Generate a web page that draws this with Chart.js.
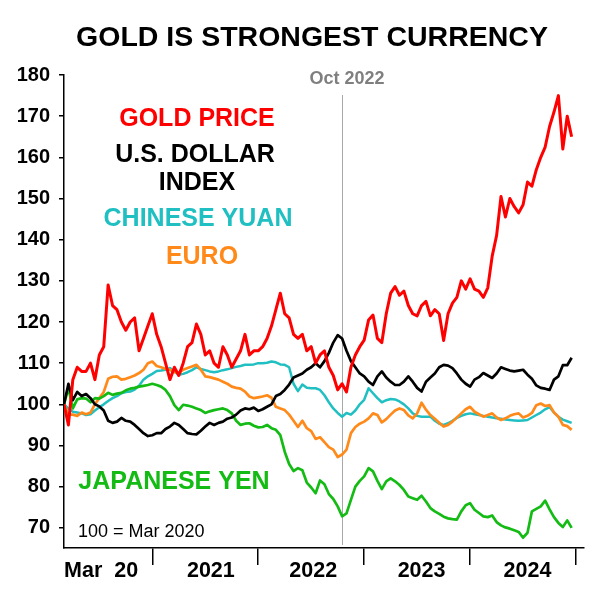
<!DOCTYPE html>
<html>
<head>
<meta charset="utf-8">
<script src="https://cdn.jsdelivr.net/npm/chart.js@4.4.1/dist/chart.umd.min.js"></script>
<style>html,body{margin:0;padding:0;background:#fff}canvas{display:block}</style>
</head>
<body>
<canvas id="chart" width="600" height="607"></canvas>
<script>
// semi-monthly observations, 100 = Mar 2020
const DATES = [
  '2020-03-01','2020-03-16','2020-04-01','2020-04-16','2020-05-01','2020-05-16','2020-06-01','2020-06-16','2020-07-01','2020-07-16',
  '2020-08-01','2020-08-16','2020-09-01','2020-09-16','2020-10-01','2020-10-16','2020-11-01','2020-11-16','2020-12-01','2020-12-16',
  '2021-01-01','2021-01-16','2021-02-01','2021-02-16','2021-03-01','2021-03-16','2021-04-01','2021-04-16','2021-05-01','2021-05-16',
  '2021-06-01','2021-06-16','2021-07-01','2021-07-16','2021-08-01','2021-08-16','2021-09-01','2021-09-16','2021-10-01','2021-10-16',
  '2021-11-01','2021-11-16','2021-12-01','2021-12-16','2022-01-01','2022-01-16','2022-02-01','2022-02-16','2022-03-01','2022-03-16',
  '2022-04-01','2022-04-16','2022-05-01','2022-05-16','2022-06-01','2022-06-16','2022-07-01','2022-07-16','2022-08-01','2022-08-16',
  '2022-09-01','2022-09-16','2022-10-01','2022-10-16','2022-11-01','2022-11-16','2022-12-01','2022-12-16','2023-01-01','2023-01-16',
  '2023-02-01','2023-02-16','2023-03-01','2023-03-16','2023-04-01','2023-04-16','2023-05-01','2023-05-16','2023-06-01','2023-06-16',
  '2023-07-01','2023-07-16','2023-08-01','2023-08-16','2023-09-01','2023-09-16','2023-10-01','2023-10-16','2023-11-01','2023-11-16',
  '2023-12-01','2023-12-16','2024-01-01','2024-01-16','2024-02-01','2024-02-16','2024-03-01','2024-03-16','2024-04-01','2024-04-16',
  '2024-05-01','2024-05-16','2024-06-01','2024-06-16','2024-07-01','2024-07-16','2024-08-01','2024-08-16','2024-09-01','2024-09-16',
  '2024-10-01','2024-10-16','2024-11-01','2024-11-16','2024-12-01','2024-12-16'
];

const GOLD = [100,95,106,109,108,108,110,106,112,114, 129,124,123,120,118,120,121,113,116,119,
  122,117,114,110,106,109,107,110,114,115, 119.5,117,112,113,110,109,114,112,109,111,
  113,117,112,113,113,114,116,119,123,127, 122,121,117,116,117,113,114,110,112,113,
  109,107,103.5,105,103,109,112,114,115.6,120.5, 121.7,116,115,122,127,128.6,126.5,127.5,124,122,
  121.5,124,125,121.5,123,122,115.5,122,124.6,126, 130,128,130.5,128,127.5,126,128.3,136,141,150.5,
  145.5,150,148,146.5,148.5,154,153,157,160,162.5, 167.5,171,175,162,170,165];

const USD = [100,105,101,103,102,102.5,101.5,100,99.5,98.5, 96,95.5,95.8,96.7,96,95.8,95,94,93,92.3,
  92.5,93,93,94,94.6,95.5,95,94,93,92.8, 92.7,93.6,94.6,95.5,95,95.5,95.8,96.5,96.8,97.5,
  98.5,99,98.8,99.2,98.4,98.8,99.4,100,102,102.5, 103.5,104.8,106.5,107,107.5,108.4,109,110,109,110.5,
  112.5,115,116.8,116,113,110.5,109,107.5,106.8,105.5, 104.7,106.8,108,106.5,105.5,104.7,104.7,105.5,106.8,105.5,
  104,103.1,105.5,106.5,107.5,109,109.6,109.4,108.8,107.5, 106,105,104.3,106,106.6,107.6,107,106.4,107.5,109,
  108.6,108.2,108,108.2,108.4,107.2,106.2,104.6,104,103.8, 103.5,106,106.8,109.5,109.5,111.3];

const YUAN = [100,99,98.2,98,97.8,97.4,97.6,98.5,99.3,100, 100.8,101.5,102,102.7,103,103.1,103.6,104.5,106,106.8,
  107.4,108.1,108.2,108.4,108.8,108,107.2,107.4,107.8,108.3, 109,108.6,108.3,108,107.8,108,108.3,108.5,108.8,109.1,
  109.3,109.6,109.6,109.7,110,110,110.1,110.4,110.2,109.7, 109.6,109,105,103.2,104.8,104,103.9,103.9,103.5,102.2,
  100.5,99,97.9,97,97.9,97.5,98.5,100,101.1,103.9, 102.7,101.5,100.5,101,101.3,101.2,100.7,100,99,97.8,
  97.2,97,97,97,96,95.3,95,95.4,96,96.7, 97.2,97.6,97.8,97.6,97.4,97.2,97,96.8,96.6,96.5,
  96.3,96.2,96.1,96,96.1,96.2,96.8,97.4,98,98.8, 99.3,98,97,96.3,95.9,95.5];

const EURO = [100,97.5,97.5,97.2,98,97.6,98,100,101.5,103, 106.2,106.7,106.8,106,106.2,106.6,107,107.6,108.4,110,
  110.4,109.3,109,108.6,108.4,107.8,107.6,108.4,108.8,109.2, 109.6,108.4,106.8,106.6,106.3,106,105.5,105,104.3,104,
  103.8,103.1,101.9,101.5,101.7,101.9,102.2,101.6,99.4,99, 98.6,97.5,96,94.5,96,94.2,93.5,91.6,92,90.8,
  89.6,89,87.2,87.8,89,93,94.5,95.3,95.8,96.6, 97.8,97.4,95.6,96.4,97.5,98.5,99,98.6,97.3,96.6,
  97.8,100.4,98.7,97.4,96.5,95.5,94.6,95,95.8,96.8, 97.8,98.8,99.4,98.2,97.6,97,97.4,97.8,96.8,96.2,
  96.6,97.2,97.6,97.8,96.8,97.2,97.9,99.8,100.2,99.6, 99.8,98,97,95,94.7,93.8];

const YEN = [100,104,99,101.2,101.5,101.4,100.5,101.5,101.4,102, 102.8,102.3,102.6,102.8,103.4,103.8,104,104.3,104.5,104.7,
  105,104.7,104.3,103.5,102,99.8,98.6,99.9,99.7,99.4, 99,98.6,97.9,98.3,98.6,98.8,99,98.6,97.8,96,
  95,95.3,95.4,94.8,94.4,94.5,95,94.2,93.8,92.5, 88.5,85.5,83.8,84.5,84,81,79.8,78.4,81.5,80.6,
  78.2,77,75.2,72.8,73.5,76.8,80,81.4,82.5,84.5, 83.7,81.4,79.4,81.3,82,81.3,80.4,79.2,77.6,77.2,
  76.8,77.8,76.4,74.8,74,73.4,72.7,72.3,72.1,72, 74,75.5,76,74.4,73.6,72.8,72.6,73,71.4,70.6,
  70.1,69.8,69.4,69,67.6,68.8,74,74.6,75.2,76.6, 74.5,72.6,71.2,70.2,71.8,70];

const Y_TICKS = [70,80,90,100,110,120,130,140,150,160,170,180];
const YEAR_MARKS = [2021,2022,2023,2024,2025];
const X_LABELS = ['Mar  20','2021','2022','2023','2024'];
const X_LABEL_AT = ['2020-07-07','2021-07-20','2022-07-08','2023-07-16','2024-07-16'];
const MARKER_DATE = '2022-10-16';
const AXIS_START = '2020-03-01', AXIS_END = '2025-01-28';

function toYear(s){
  const [y,m,d] = s.split('-').map(Number);
  return y + (m-1)/12 + (d-1)/360;
}

const FONT = '"Liberation Sans", Arial, Helvetica, sans-serif';
const RED = '#ff0000', TEAL = '#1fbfc2', ORANGE = '#ff8a1a', GREEN = '#14bb14';

function series(vals){ return vals.map((v,i)=>({x:toYear(DATES[i]), y:v})); }

const overlay = {
  id:'overlay',
  beforeDatasetsDraw(chart){
    const {ctx, scales:{x}} = chart;
    const px = Math.round(x.getPixelForValue(toYear(MARKER_DATE))) + 0.5;
    ctx.save();
    ctx.strokeStyle = '#a8a8a8'; ctx.lineWidth = 1;
    ctx.beginPath(); ctx.moveTo(px,95); ctx.lineTo(px,545); ctx.stroke();
    ctx.restore();
  },
  afterDraw(chart){
    const {ctx, scales:{x}} = chart;
    ctx.save();
    ctx.textAlign = 'center'; ctx.textBaseline = 'middle';
    ctx.fillStyle = '#000';
    ctx.font = 'bold 28.5px ' + FONT;
    ctx.fillText('GOLD IS STRONGEST CURRENCY', 312, 38);

    ctx.font = 'bold 25px ' + FONT;
    ctx.fillStyle = RED; ctx.fillText('GOLD PRICE', 197, 119);
    ctx.fillStyle = '#000'; ctx.fillText('U.S. DOLLAR', 195, 155); ctx.fillText('INDEX', 197, 183);
    ctx.fillStyle = TEAL; ctx.fillText('CHINESE YUAN', 198, 219);
    ctx.fillStyle = ORANGE; ctx.fillText('EURO', 202, 257);
    ctx.fillStyle = GREEN; ctx.fillText('JAPANESE YEN', 174, 482);

    ctx.fillStyle = '#7f7f7f';
    ctx.font = 'bold 18px ' + FONT;
    ctx.fillText('Oct 2022', 347, 79);

    ctx.fillStyle = '#000';
    ctx.font = '18px ' + FONT;
    ctx.textAlign = 'left';
    ctx.fillText('100 = Mar 2020', 78, 532);

    ctx.textAlign = 'center';
    ctx.font = 'bold 21.5px ' + FONT;
    X_LABELS.forEach((l,i)=>{
      ctx.fillText(l, x.getPixelForValue(toYear(X_LABEL_AT[i])), 571);
    });
    ctx.restore();
  }
};

const line = (label, vals, color, w) => ({
  label, data: series(vals), borderColor: color, backgroundColor: color,
  borderWidth: w, pointRadius: 0, tension: 0, borderJoinStyle: 'round', fill: false
});

new Chart(document.getElementById('chart').getContext('2d'), {
  type: 'line',
  data: {
    datasets: [
      line('Gold price', GOLD, RED, 3),
      line('U.S. dollar index', USD, '#000000', 2.7),
      line('Japanese yen', YEN, GREEN, 2.7),
      line('Euro', EURO, ORANGE, 2.7),
      line('Chinese yuan', YUAN, TEAL, 2.5)
    ]
  },
  options: {
    responsive: false,
    devicePixelRatio: 1,
    animation: false,
    layout: { padding: { left: 0, top: 75, right: 16, bottom: 0 } },
    plugins: { legend: { display: false }, tooltip: { enabled: false }, title: { display: false } },
    scales: {
      x: {
        type: 'linear',
        min: toYear(AXIS_START), max: toYear(AXIS_END),
        afterBuildTicks: s => { s.ticks = YEAR_MARKS.map(v => ({ value: v })); },
        afterFit: s => { s.height = 59; },
        ticks: { callback: () => '', autoSkip: false, maxRotation: 0 },
        grid: { drawOnChartArea: false, drawTicks: true, tickLength: 17, color: '#000', lineWidth: 1.5 },
        border: { color: '#000', width: 1.5 }
      },
      y: {
        min: 65.1, max: 180,
        afterBuildTicks: s => { s.ticks = Y_TICKS.map(v => ({ value: v })); },
        afterFit: s => { s.width = 64; },
        ticks: {
          callback: v => String(v), color: '#000', padding: 9, autoSkip: false,
          font: { family: FONT, size: 20, weight: 'bold' }
        },
        grid: { drawOnChartArea: false, drawTicks: true, tickLength: 5, color: '#000', lineWidth: 1.5 },
        border: { color: '#000', width: 1.5 }
      }
    }
  },
  plugins: [overlay]
});
</script>
</body>
</html>
